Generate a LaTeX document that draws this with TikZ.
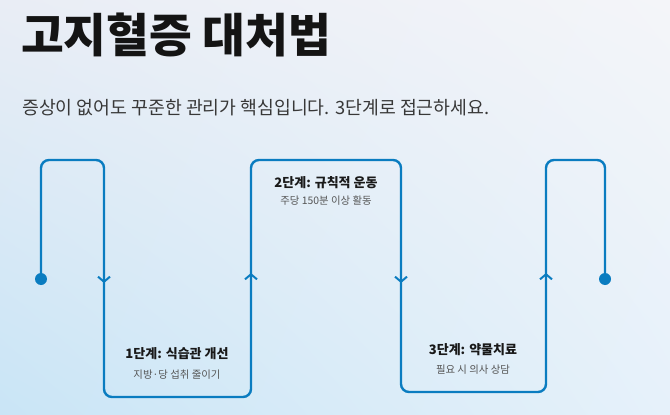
\documentclass[tikz,border=0pt]{standalone}
\usepackage{fontspec}
\setmainfont{Noto Sans CJK KR}
\usetikzlibrary{arrows.meta,shadings}
\definecolor{ligne}{HTML}{0A7CC0}
\definecolor{bgtl}{HTML}{E9EDF5}
\definecolor{bgtr}{HTML}{F4F5F9}
\definecolor{bgbl}{HTML}{C9E5F6}
\definecolor{bgbr}{HTML}{E6F1FA}
\definecolor{soustexte}{HTML}{555555}
\tikzset{
  flow/.style={ligne, line width=2.4pt},
  steptitle/.style={font=\bfseries\fontsize{13}{15}\selectfont, text=black!90},
  stepsub/.style={font=\fontsize{10.4}{12}\selectfont, text=soustexte}
}
\begin{document}
\begin{tikzpicture}[x=1pt, y=-1pt]
% Fond
\shade[upper left=bgtl, upper right=bgtr, lower left=bgbl, lower right=bgbr]
  (0pt,0pt) rectangle (670pt,-415pt);
\useasboundingbox (0,0) rectangle (670,415);
% Titre
\node[anchor=west, inner sep=0, font=\bfseries\fontsize{46.5}{52}\selectfont, text=black!92] (title) at (21,35) {고지혈증 대처법};
\node[anchor=west, inner sep=0, font=\fontsize{18.3}{21}\selectfont, text=black!78] (subtitle) at (22,108) {증상이 없어도 꾸준한 관리가 핵심입니다. 3단계로 접근하세요.};
% Extremites
\coordinate (start) at (41,279);
\coordinate (end) at (605,279);
% Chemin
\draw[flow, rounded corners=8] (start) -- (41,160) -- (104,160) -- (104,397)
  -- (251,397) -- (251,160) -- (401,160) -- (401,392)
  -- (546,392) -- (546,160) -- (605,160) -- (end);
\fill[ligne] (start) circle (6);
\fill[ligne] (end) circle (6);
% Fleches
\foreach \x/\a/\b in {104/272/283, 251/284/273, 401/272/283, 546/284/273}
  \draw[flow, line width=2pt, -{Straight Barb[length=5pt, width=12pt]}] (\x,\a) -- (\x,\b);
% Etapes
\node[steptitle] (step1) at (177,354) {1단계: 식습관 개선};
\node[stepsub] (step1sub) at (177,375) {지방·당 섭취 줄이기};
\node[steptitle] (step2) at (326,183) {2단계: 규칙적 운동};
\node[stepsub] (step2sub) at (326,201) {주당 150분 이상 활동};
\node[steptitle] (step3) at (473,350) {3단계: 약물치료};
\node[stepsub] (step3sub) at (473,370) {필요 시 의사 상담};
\end{tikzpicture}
\end{document}
